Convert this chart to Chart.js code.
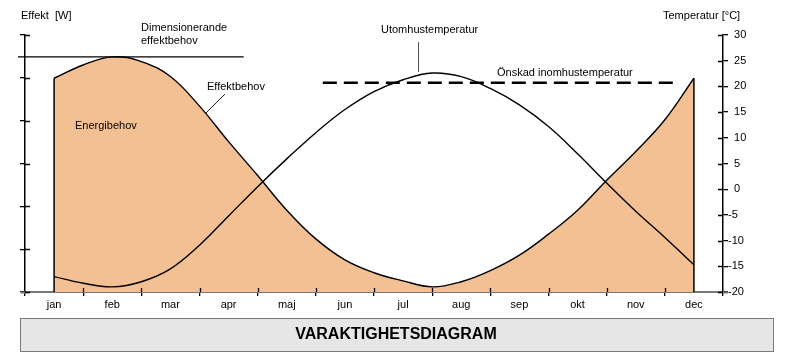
<!DOCTYPE html>
<html>
<head>
<meta charset="utf-8">
<script src="https://cdn.jsdelivr.net/npm/chart.js@4.4.1/dist/chart.umd.min.js"></script>
<style>
  html, body { margin: 0; padding: 0; background: #ffffff; }
  #wrap { width: 791px; height: 363px; position: relative; }
</style>
</head>
<body>
<div id="wrap"><canvas id="c" width="791" height="363"></canvas></div>
<script>
// ---- data ----
const months = ['jan','feb','mar','apr','maj','jun','jul','aug','sep','okt','nov','dec'];

// sample positions in months (0 = start of jan, 0.5 = middle of jan)
const sampleX = [0.5,1.0,1.5,2.0,2.5,3.0,3.5,4.0,4.5,5.0,5.5,6.0,6.5,7.0,7.5,8.0,8.5,9.0,9.5,10.0,10.5,11.0,11.5];

// Effektbehov (left axis, arbitrary W units 0..6)
const effektW = [4.99,5.30,5.49,5.38,5.03,4.34,3.51,2.72,1.91,1.24,0.75,0.45,0.26,0.12,0.24,0.50,0.86,1.35,1.91,2.61,3.28,4.02,4.99];

// Utomhustemperatur (right axis, °C)
const tempC = [-17.0,-18.3,-19.0,-18.0,-15.5,-10.9,-5.2,0.5,5.9,11.0,15.5,19.0,21.3,22.6,21.9,19.6,16.4,12.2,6.9,1.2,-4.3,-9.4,-14.7];

// Dimensionerande effektbehov
const designEffekt = 5.49;
const designSpan = [-0.12, 3.76];

// Önskad inomhustemperatur
const indoorTemp = 20.7;
const indoorSpan = [5.12, 11.14];

// axis ranges / ticks
const effektAxis = { min: 0, max: 6, step: 1 };
const tempAxis = { min: -20, max: 30, step: 5 };
const monthRange = { min: 0, max: 12 };

// ---- build ----
const zip = (xs, ys) => xs.map((x, i) => ({ x: x, y: ys[i] }));
const FONT = "'Liberation Sans', Arial, sans-serif";
const ORANGE = '#F2C093';
const firstX = sampleX[0], lastX = sampleX[sampleX.length - 1];

const innerTicks = {
  id: 'innerTicks',
  afterDraw(chart) {
    const ctx = chart.ctx;
    const ca = chart.chartArea;
    const xv = chart.scales.xv, yE = chart.scales.yE, yT = chart.scales.yT;
    ctx.save();
    // x axis line extension
    ctx.strokeStyle = '#777';
    ctx.lineWidth = 2;
    ctx.beginPath();
    ctx.moveTo(ca.left - 4, ca.bottom + 0.5); ctx.lineTo(ca.left, ca.bottom + 0.5);
    ctx.moveTo(ca.right, ca.bottom + 0.5); ctx.lineTo(ca.right + 5, ca.bottom + 0.5);
    ctx.stroke();

    ctx.strokeStyle = '#000';
    ctx.lineWidth = 1.3;
    ctx.beginPath();
    for (let i = monthRange.min + 1; i < monthRange.max; i++) {
      const px = Math.round(xv.getPixelForValue(i)) + 0.5;
      ctx.moveTo(px, ca.bottom - 4); ctx.lineTo(px, ca.bottom);
    }
    for (let v = effektAxis.min; v <= effektAxis.max; v += effektAxis.step) {
      const py = Math.round(yE.getPixelForValue(v)) + 0.5;
      ctx.moveTo(ca.left, py); ctx.lineTo(ca.left + 5, py);
    }
    for (let v = tempAxis.min; v <= tempAxis.max; v += tempAxis.step) {
      const py = Math.round(yT.getPixelForValue(v)) + 0.5;
      ctx.moveTo(ca.right - 5, py); ctx.lineTo(ca.right, py);
    }
    ctx.stroke();

    // annotations
    ctx.fillStyle = '#000';
    ctx.font = '11px ' + FONT;
    ctx.textBaseline = 'middle';
    ctx.textAlign = 'left';
    ctx.fillText('Effekt  [W]', 21, 16);
    ctx.fillText('Temperatur [°C]', 663, 16);
    ctx.fillText('Dimensionerande', 141, 28);
    ctx.fillText('effektbehov', 141, 41);
    ctx.fillText('Energibehov', 75, 126);
    ctx.fillText('Effektbehov', 207, 87);
    ctx.fillText('Utomhustemperatur', 381, 30);
    ctx.fillText('Önskad inomhustemperatur', 497, 73);

    ctx.lineWidth = 1;
    ctx.strokeStyle = '#222';
    ctx.beginPath();
    ctx.moveTo(225, 94); ctx.lineTo(205, 114);
    ctx.stroke();
    ctx.strokeStyle = '#555';
    ctx.beginPath();
    ctx.moveTo(418.5, 42); ctx.lineTo(418.5, 72);
    ctx.stroke();

    // title box
    ctx.fillStyle = '#E6E6E6';
    ctx.fillRect(20, 318, 753, 33);
    ctx.strokeStyle = '#7a7a7a';
    ctx.lineWidth = 1;
    ctx.strokeRect(20.5, 318.5, 753, 33);
    ctx.fillStyle = '#000';
    ctx.font = 'bold 16px ' + FONT;
    ctx.textAlign = 'center';
    ctx.fillText('VARAKTIGHETSDIAGRAM', 396, 335);
    ctx.restore();
  }
};

new Chart(document.getElementById('c'), {
  type: 'line',
  data: {
    labels: months,
    datasets: [
      {
        label: 'Utomhustemperatur',
        data: zip(sampleX, tempC),
        xAxisID: 'xv', yAxisID: 'yT',
        borderColor: '#000', borderWidth: 1.4,
        tension: 0.4,
        pointRadius: 0, fill: false
      },
      {
        label: 'Önskad inomhustemperatur',
        data: zip(indoorSpan, [indoorTemp, indoorTemp]),
        xAxisID: 'xv', yAxisID: 'yT',
        borderColor: '#000', borderWidth: 2.6, borderDash: [14, 7],
        pointRadius: 0, fill: false, tension: 0
      },
      {
        label: 'Dimensionerande effektbehov',
        data: zip(designSpan, [designEffekt, designEffekt]),
        xAxisID: 'xv', yAxisID: 'yE',
        borderColor: '#000', borderWidth: 1.3,
        pointRadius: 0, fill: false, tension: 0, clip: false
      },
      {
        label: 'start',
        data: zip([firstX, firstX], [0, effektW[0]]),
        xAxisID: 'xv', yAxisID: 'yE',
        borderColor: '#000', borderWidth: 1.5,
        pointRadius: 0, fill: false, tension: 0
      },
      {
        label: 'slut',
        data: zip([lastX, lastX], [0, effektW[effektW.length - 1]]),
        xAxisID: 'xv', yAxisID: 'yE',
        borderColor: '#000', borderWidth: 1.5,
        pointRadius: 0, fill: false, tension: 0
      },
      {
        label: 'Effektbehov',
        data: zip(sampleX, effektW),
        xAxisID: 'xv', yAxisID: 'yE',
        borderColor: '#000', borderWidth: 1.4,
        backgroundColor: ORANGE,
        tension: 0.4,
        pointRadius: 0, fill: 'origin'
      }
    ]
  },
  options: {
    responsive: false,
    animation: false,
    devicePixelRatio: 1,
    layout: { padding: { top: 35, left: 0, right: 0, bottom: 0 } },
    plugins: { legend: { display: false }, tooltip: { enabled: false }, title: { display: false } },
    scales: {
      x: {
        type: 'category',
        position: 'bottom',
        offset: true,
        grid: { display: true, drawOnChartArea: false, offset: true, tickLength: 4, tickColor: '#000', lineWidth: 1.3 },
        border: { display: true, color: '#777', width: 2 },
        ticks: { color: '#000', font: { family: FONT, size: 11 }, padding: 2, maxRotation: 0, autoSkip: false },
        afterFit(s) { s.height = 71; }
      },
      xv: {
        type: 'linear',
        display: false,
        min: monthRange.min, max: monthRange.max
      },
      yE: {
        type: 'linear',
        position: 'left',
        min: effektAxis.min, max: effektAxis.max,
        grid: { drawOnChartArea: false, tickLength: 5, tickColor: '#000', lineWidth: 1.3 },
        border: { display: true, color: '#000', width: 1.5 },
        ticks: { stepSize: effektAxis.step, callback: () => '' },
        afterFit(s) { s.width = 25; }
      },
      yT: {
        type: 'linear',
        position: 'right',
        min: tempAxis.min, max: tempAxis.max,
        grid: { drawOnChartArea: false, tickLength: 5, tickColor: '#000', lineWidth: 1.3 },
        border: { display: true, color: '#000', width: 1.5 },
        ticks: {
          stepSize: tempAxis.step, padding: 0, color: '#000',
          font: { family: FONT, size: 11 },
          callback: (v) => (v < 0 ? String(v) : '\u2007' + v)
        },
        afterFit(s) { s.width = 68; }
      }
    }
  },
  plugins: [innerTicks]
});
</script>
</body>
</html>
